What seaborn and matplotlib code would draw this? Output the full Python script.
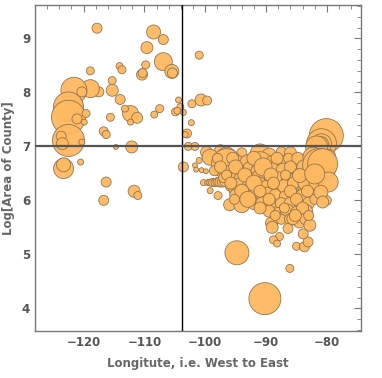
import pandas as pd
import seaborn as sns
import matplotlib.pyplot as plt
from matplotlib.ticker import MultipleLocator

# counties west of the divide (plus the few just east of it, north of the line)
west_lon = [-117.8, -108.5, -106.9, -109.6, -106.9, -105.5, -105.4, -110.4, -110.3, -109.8,
            -114.1, -113.7, -118.9, -115.3, -115.3, -114.0, -117.5, -118.9, -121.6, -120.3,
            -121.1, -122.5, -122.5, -121.1, -119.6, -119.9, -122.5, -123.7, -123.5, -120.3,
            -120.5, -123.3, -123.3, -116.3, -115.6, -116.7, -116.3, -114.7, -112.1, -112.3,
            -111.2, -113.2, -112.3, -108.4, -107.5, -104.9, -104.4, -104.1, -111.7, -111.1,
            -116.7, -104.6]
west_area = [9.19, 9.12, 8.98, 8.83, 8.57, 8.39, 8.36, 8.33, 8.36, 8.51,
             8.49, 8.42, 8.40, 8.22, 8.04, 7.87, 8.01, 8.07, 8.04, 8.01,
             7.77, 7.73, 7.54, 7.51, 7.61, 7.45, 7.11, 7.19, 7.05, 7.08,
             6.71, 6.59, 6.66, 6.34, 7.54, 7.28, 7.22, 6.99, 6.99, 7.61,
             7.53, 7.70, 7.45, 7.59, 7.70, 7.64, 7.86, 7.73, 6.17, 6.09,
             6.00, 7.66]
west_pop = [25, 49, 25, 36, 81, 49, 25, 30, 20, 16,
            12, 16, 16, 16, 36, 25, 25, 81, 169, 25,
            36, 225, 289, 25, 16, 9, 256, 25, 36, 9,
            9, 100, 49, 25, 16, 20, 16, 6, 36, 64,
            30, 12, 9, 12, 16, 16, 9, 12, 36, 16,
            25, 12]

# counties just east of the divide
mid_lon = [-101.0, -100.7, -99.7, -102.2, -103.6, -102.3, -103.0, -103.3, -102.8, -101.7,
           -103.6, -101.0, -101.7, -101.5, -100.6, -99.9, -100.3, -99.6, -99.2, -98.8,
           -98.4, -98.0, -97.6, -97.2, -96.8, -99.2]
mid_area = [8.69, 7.86, 7.85, 7.79, 7.63, 7.44, 7.24, 7.22, 7.00, 7.00,
            6.62, 6.74, 6.65, 6.57, 6.56, 6.54, 6.33, 6.33, 6.33, 6.33,
            6.33, 6.34, 6.34, 6.34, 6.35, 6.18]
mid_pop = [16, 36, 20, 16, 9, 9, 20, 9, 16, 16,
           25, 9, 6, 6, 6, 6, 9, 9, 12, 16,
           16, 20, 25, 25, 25, 9]

# the dense eastern cluster
east_lon = [-99.8, -97.5, -96.5, -94.0, -91.0, -89.5, -87.5, -86.0,
            -99.2, -96.5, -94.6, -93.0, -91.0, -89.0, -87.2, -85.5, -84.0,
            -98.5, -96.0, -94.5, -93.0, -91.5, -90.0, -88.9, -87.2, -85.8, -84.5, -83.0,
            -97.0, -95.5, -94.0, -92.5, -91.0, -89.5, -88.0, -86.5, -85.0, -84.5, -83.0,
            -96.0, -94.5, -93.0, -91.5, -90.0, -88.5, -87.0, -85.5, -84.0, -82.5,
            -97.9, -95.0, -93.5, -92.0, -90.0, -88.5, -87.0, -85.5, -84.0, -82.5,
            -96.0, -94.0, -92.0, -90.5, -89.0, -87.5, -86.0, -84.5, -83.0,
            -89.5, -88.0, -86.5, -85.0, -83.5,
            -89.1, -87.5, -86.0, -84.5, -83.5,
            -87.8, -88.8, -88.2, -85.0, -83.7, -83.1, -83.9, -82.8, -86.4, -85.6, -86.1,
            -89.0, -94.8, -90.2,
            -98.0, -95.5, -92.0, -88.2, -86.3, -84.8,
            -97.5, -95.0, -90.5, -86.0, -83.8,
            -96.5, -93.5, -89.2, -86.8, -82.3,
            -95.8, -92.0, -88.8, -85.5, -83.8, -81.8,
            -94.0, -91.0, -86.0, -83.2,
            -95.2, -93.0, -89.5, -85.0, -82.0,
            -91.0, -87.0, -84.0,
            -88.5, -85.2, -83.0]
east_area = [6.89, 6.92, 6.80, 6.88, 6.86, 6.84, 6.90, 6.88,
             6.80, 6.68, 6.74, 6.70, 6.68, 6.72, 6.70, 6.72, 6.70,
             6.55, 6.56, 6.55, 6.62, 6.55, 6.52, 6.59, 6.56, 6.55, 6.50, 6.55,
             6.42, 6.40, 6.38, 6.42, 6.40, 6.42, 6.40, 6.42, 6.38, 6.46, 6.40,
             6.25, 6.22, 6.26, 6.22, 6.26, 6.25, 6.26, 6.24, 6.26, 6.25,
             6.09, 6.10, 6.08, 6.12, 6.06, 6.10, 6.08, 6.10, 6.08, 6.12,
             5.92, 5.92, 5.94, 5.92, 5.95, 5.94, 5.95, 5.93, 5.95,
             5.80, 5.78, 5.80, 5.78, 5.80,
             5.58, 5.65, 5.65, 5.62, 5.66,
             5.33, 5.27, 5.20, 5.15, 5.14, 5.23, 5.38, 5.54, 5.48, 5.66, 4.74,
             5.50, 5.03, 4.18,
             6.78, 6.78, 6.78, 6.78, 6.78, 6.78,
             6.62, 6.62, 6.62, 6.62, 6.62,
             6.47, 6.47, 6.47, 6.47, 6.47,
             6.32, 6.32, 6.32, 6.32, 6.32, 6.32,
             6.17, 6.17, 6.17, 6.17,
             6.02, 6.02, 6.02, 6.02, 6.02,
             5.86, 5.86, 5.86,
             5.72, 5.72, 5.72]
east_pop = [36, 36, 100, 25, 100, 49, 25, 36,
            64, 225, 25, 64, 144, 36, 49, 36, 64,
            25, 25, 49, 20, 36, 64, 36, 49, 25, 49, 81,
            25, 36, 64, 25, 81, 25, 49, 36, 64, 49, 25,
            16, 100, 36, 144, 36, 25, 49, 36, 25, 36,
            16, 36, 64, 25, 100, 36, 25, 36, 49, 25,
            36, 64, 36, 64, 25, 36, 36, 25, 36,
            36, 25, 49, 36, 49,
            36, 25, 36, 49, 36,
            16, 16, 12, 16, 25, 25, 25, 36, 25, 36, 16,
            36, 144, 256,
            25, 36, 49, 36, 25, 36,
            36, 49, 81, 36, 49,
            25, 49, 49, 25, 36,
            36, 64, 36, 36, 36, 49,
            49, 36, 36, 36,
            25, 64, 36, 36, 25,
            36, 25, 36,
            25, 36, 25]

# the big coastal counties on the far east
coast_lon = [-80.1, -80.9, -80.9, -80.9, -81.7, -79.6, -82.3, -81.2, -79.9, -84.5,
             -81.2, -80.7, -79.8, -82.0, -80.1, -81.0, -80.7]
coast_area = [7.20, 7.05, 7.05, 7.05, 6.99, 6.83, 6.80, 6.65, 6.64, 6.46,
              6.56, 6.68, 6.34, 6.49, 6.00, 6.15, 5.97]
coast_pop = [289, 225, 100, 49, 121, 36, 100, 289, 49, 49,
             25, 225, 100, 100, 25, 49, 36]

df = pd.DataFrame({
    "lon": west_lon + mid_lon + east_lon + coast_lon,
    "log_area": west_area + mid_area + east_area + coast_area,
    "pop": west_pop + mid_pop + east_pop + coast_pop,
})

lon_split = -103.9
area_split = 7.0

sns.set_style("white")
fig = plt.figure(figsize=(3.82, 3.78), dpi=100)
ax = fig.add_axes([0.0916, 0.1243, 0.8534, 0.8625])

k = (2 * 0.72) ** 2  # px^2 -> pt^2
sns.scatterplot(data=df, x="lon", y="log_area", size="pop",
                sizes=(k * df["pop"].min(), k * df["pop"].max()),
                size_norm=(df["pop"].min(), df["pop"].max()),
                color="#ffb960", edgecolor=(0.55, 0.44, 0.3, 0.5), linewidth=0.6,
                alpha=0.95, legend=False, ax=ax, zorder=2)

ax.axvline(lon_split, color="black", lw=1.0, zorder=3)
ax.axhline(area_split, color="#555555", lw=1.6, zorder=3)

ax.set_xlim(-128, -74.4)
ax.set_ylim(3.58, 9.62)
ax.xaxis.set_major_locator(MultipleLocator(10))
ax.xaxis.set_minor_locator(MultipleLocator(2))
ax.yaxis.set_major_locator(MultipleLocator(1))
ax.yaxis.set_minor_locator(MultipleLocator(0.2))

grey = "#666666"
for s in ax.spines.values():
    s.set_color("#777777")
    s.set_linewidth(1.0)
ax.tick_params(which="both", direction="in", top=True, right=True, color="#777777",
               labelcolor="#555555", labelsize=8.5)
ax.tick_params(which="major", length=5, width=0.8)
ax.tick_params(which="minor", length=3, width=0.6)
for lab in ax.get_xticklabels() + ax.get_yticklabels():
    lab.set_fontweight("bold")

ax.set_xlabel("Longitute, i.e. West to East", color=grey, fontsize=8.5, fontweight="bold", labelpad=6)
ax.set_ylabel("Log[Area of County]", color=grey, fontsize=8.5, fontweight="bold", labelpad=5)

plt.savefig("out.png", dpi=100)
